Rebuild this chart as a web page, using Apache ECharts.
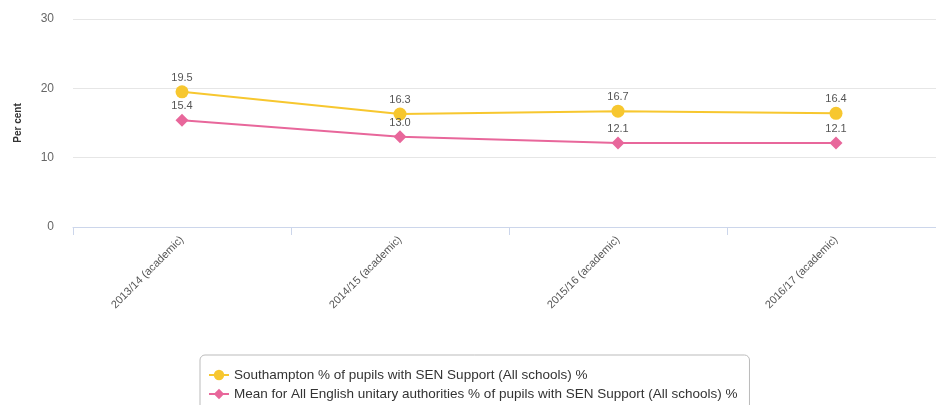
<!DOCTYPE html>
<html>
<head>
<meta charset="utf-8">
<script src="https://cdn.jsdelivr.net/npm/echarts@6/dist/echarts.min.js"></script>
<style>html,body{margin:0;padding:0;background:#fff;overflow:hidden}#c{width:945px;height:405px}</style>
</head>
<body>
<div id="c"></div>
<script>
const categories = ["2013/14 (academic)", "2014/15 (academic)", "2015/16 (academic)", "2016/17 (academic)"];
const southampton = [19.5, 16.3, 16.7, 16.4];
const englishMean = [15.4, 13.0, 12.1, 12.1];
const seriesNames = [
  "Southampton % of pupils with SEN Support (All schools) %",
  "Mean for All English unitary authorities % of pupils with SEN Support (All schools) %"
];
const yTicks = { min: 0, max: 30, interval: 10 };

const chart = echarts.init(document.getElementById('c'), null, { renderer: 'canvas' });
const font = 'Liberation Sans, Arial, sans-serif';
chart.setOption({
  animation: false,
  textStyle: { fontFamily: font },
  grid: { left: 73, right: 0, top: 19, bottom: 178, containLabel: false },
  xAxis: {
    type: 'category',
    data: categories,
    boundaryGap: true,
    axisLine: { lineStyle: { color: '#ccd6eb', width: 1 } },
    axisTick: { show: true, length: 8, lineStyle: { color: '#ccd6eb' } },
    axisLabel: { rotate: 45, margin: 11, fontSize: 11, color: '#555', fontFamily: font }
  },
  yAxis: {
    type: 'value',
    min: yTicks.min, max: yTicks.max, interval: yTicks.interval,
    name: 'Per cent',
    nameLocation: 'middle',
    nameRotate: 90,
    nameGap: 50,
    nameTextStyle: { fontSize: 10, fontWeight: 'bold', color: '#333', fontFamily: font },
    axisLine: { show: false },
    axisTick: { show: false },
    axisLabel: { fontSize: 12, color: '#666', margin: 19, fontFamily: font },
    splitLine: { lineStyle: { color: '#e6e6e6', width: 1 } }
  },
  legend: {
    orient: 'vertical',
    left: 200,
    top: 355,
    height: 80,
    padding: [13, 12, 12, 8],
    itemGap: 5,
    itemWidth: 20,
    itemHeight: 13,
    borderColor: '#bbb',
    borderWidth: 1,
    borderRadius: 5,
    textStyle: { fontSize: 13.5, color: '#333', fontFamily: font },
    data: seriesNames
  },
  series: [
    {
      name: seriesNames[0],
      type: 'line',
      data: southampton,
      color: '#f7c72f',
      symbol: 'circle',
      symbolSize: 13,
      lineStyle: { width: 2, color: '#f7c72f' },
      itemStyle: { color: '#f7c72f' },
      label: { show: true, position: 'top', distance: 2, fontSize: 11, color: '#555', formatter: p => p.value.toFixed(1) }
    },
    {
      name: seriesNames[1],
      type: 'line',
      data: englishMean,
      color: '#e8679b',
      symbol: 'diamond',
      symbolSize: 13,
      lineStyle: { width: 2, color: '#e8679b' },
      itemStyle: { color: '#e8679b' },
      label: { show: true, position: 'top', distance: 2, fontSize: 11, color: '#555', formatter: p => p.value.toFixed(1) }
    }
  ]
});
</script>
</body>
</html>
